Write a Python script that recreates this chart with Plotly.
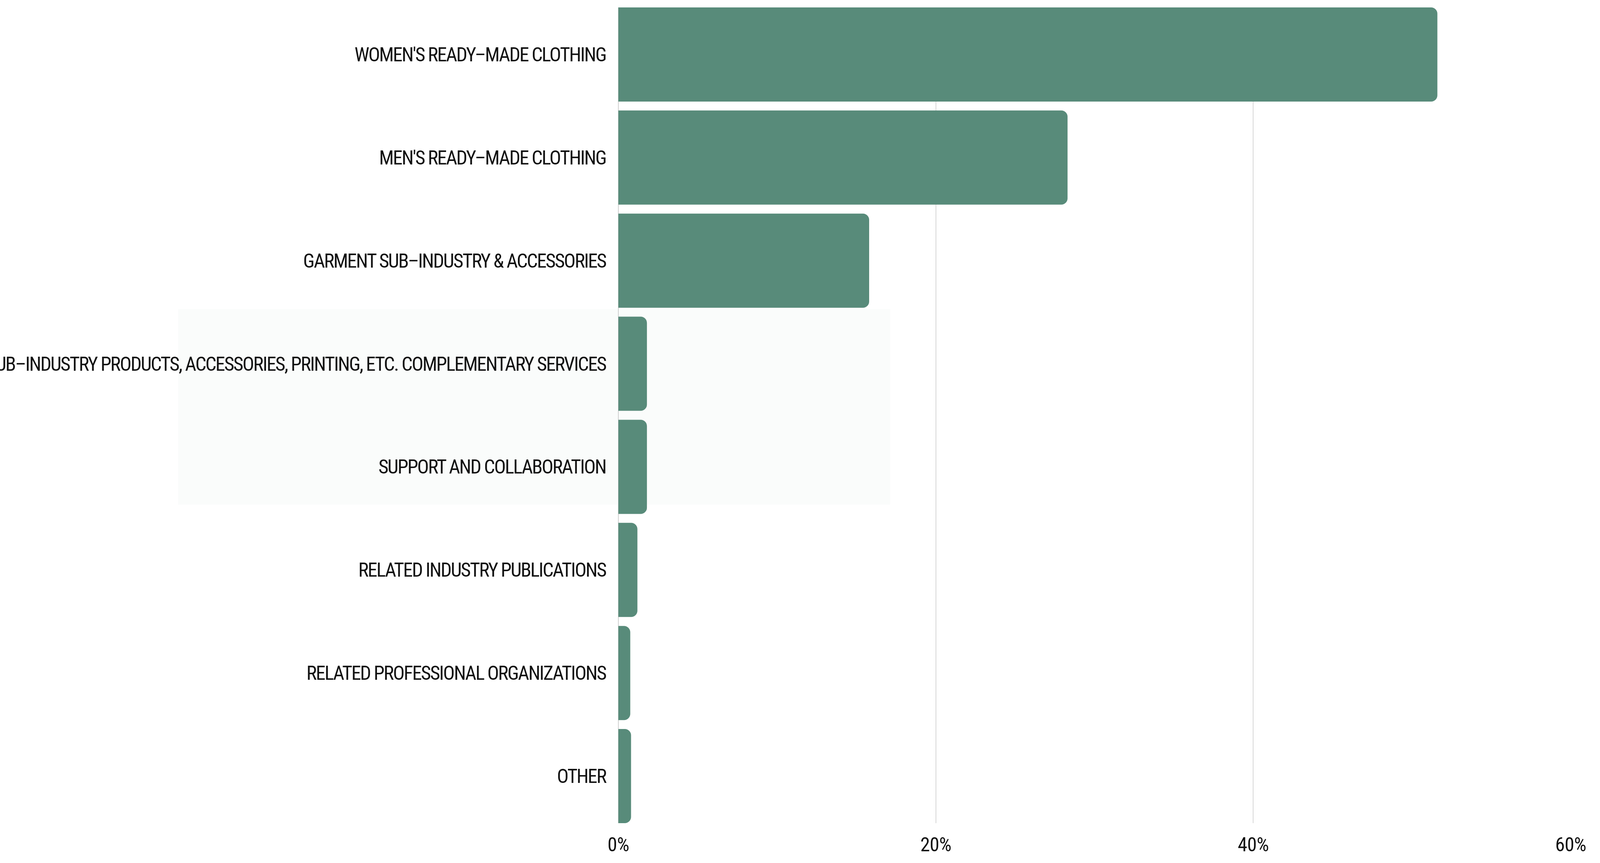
import plotly.graph_objects as go

categories = [
    "WOMEN'S READY–MADE CLOTHING",
    "MEN'S READY–MADE CLOTHING",
    "GARMENT SUB–INDUSTRY & ACCESSORIES",
    "SUB–INDUSTRY PRODUCTS, ACCESSORIES, PRINTING, ETC. COMPLEMENTARY SERVICES",
    "SUPPORT AND COLLABORATION",
    "RELATED INDUSTRY PUBLICATIONS",
    "RELATED PROFESSIONAL ORGANIZATIONS",
    "OTHER",
]
shares = [51.6, 28.3, 15.8, 1.8, 1.8, 1.2, 0.75, 0.8]
x_ticks = [0, 20, 40, 60]
x_tick_labels = ["0%", "20%", "40%", "60%"]

# The browser viewport is capped at 4096 px wide; lay the figure out to fill it
W, H = 4096, 2209
M_L, M_R, M_T, M_B = 1583, 75, 19, 102
GAP = 0.0871
BAR_COLOR = "#588b7a"
FONT = "Liberation Sans Narrow, Roboto Condensed, DejaVu Sans Condensed, Arial Narrow, sans-serif"
FS = 50

fig = go.Figure(
    go.Bar(
        x=shares,
        y=categories,
        orientation="h",
        marker=dict(color=BAR_COLOR, cornerradius=16, line=dict(width=0)),
        hoverinfo="skip",
    )
)

n = len(categories)
fig.update_layout(
    width=W,
    height=H,
    autosize=False,
    margin=dict(l=M_L, r=M_R, t=M_T, b=M_B, pad=0, autoexpand=False),
    paper_bgcolor="white",
    plot_bgcolor="rgba(0,0,0,0)",
    bargap=GAP,
    showlegend=False,
    font=dict(family=FONT, size=FS, color="#111111"),
    xaxis=dict(
        range=[0, 60],
        tickvals=x_ticks,
        ticktext=x_tick_labels,
        showgrid=True,
        gridcolor="#d6d6d6",
        gridwidth=1.5,
        zeroline=True,
        zerolinecolor="#d0d0d0",
        zerolinewidth=1.5,
        showline=False,
        ticks="",
        ticklabelstandoff=21,
        tickfont=dict(family=FONT, size=FS, color="#111111"),
        automargin=False,
        fixedrange=True,
    ),
    yaxis=dict(
        type="category",
        categoryorder="array",
        categoryarray=categories,
        range=[n - 0.5 - GAP / 2, -0.5 + GAP / 2],
        showgrid=False,
        zeroline=False,
        showline=False,
        ticks="",
        ticklabelstandoff=31,
        tickfont=dict(family=FONT, size=FS, color="#111111"),
        automargin=False,
        fixedrange=True,
    ),
    shapes=[
        dict(
            type="rect",
            xref="paper",
            yref="paper",
            x0=-0.4623,
            x1=0.2854,
            y0=0.3906,
            y1=0.630,
            fillcolor="#fafcfb",
            line=dict(width=0),
            layer="below",
        )
    ],
)

page_js = """
document.body.style.margin = '0';
document.body.style.overflow = 'hidden';
var gd = document.getElementById('{plot_id}');
function tighten() {
  gd.querySelectorAll('.ytick text').forEach(function (t) {
    t.style.letterSpacing = '-2.5px';
  });
  gd.querySelectorAll('.xtick text').forEach(function (t) {
    t.style.letterSpacing = '-0.5px';
  });
}
tighten();
gd.on('plotly_afterplot', tighten);
setTimeout(tighten, 50);
"""

fig.write_html("out.html", config={"responsive": False, "displayModeBar": False}, post_script=page_js)
